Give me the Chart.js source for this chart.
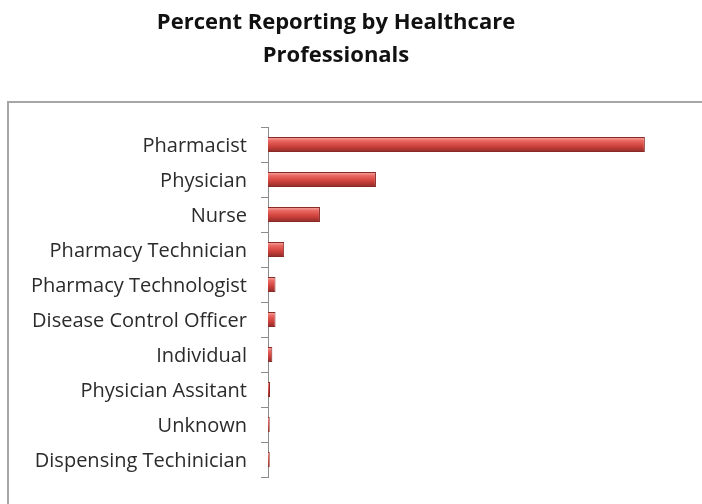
<!DOCTYPE html>
<html>
<head>
<meta charset="utf-8">
<script src="https://cdn.jsdelivr.net/npm/chart.js@4.4.1/dist/chart.umd.min.js"></script>
<style>
  html, body { margin: 0; padding: 0; background: #fff; }
  #wrap { width: 702px; height: 504px; }
</style>
</head>
<body>
<div id="wrap"><canvas id="chartCanvas"></canvas></div>
<script>
const categories = [
    'Pharmacist', 'Physician', 'Nurse', 'Pharmacy Technician', 'Pharmacy Technologist',
    'Disease Control Officer', 'Individual', 'Physician Assitant', 'Unknown', 'Dispensing Techinician'
];
const percentValues = [65.3, 18.7, 9.0, 2.8, 1.3, 1.3, 0.75, 0.35, 0.3, 0.3];
const titleLines = ['Percent Reporting by Healthcare', 'Professionals'];

// frame round the plot, like the office chart border
const framePlugin = {
    id: 'frame',
    beforeDraw(chart) {
        const c = chart.ctx;
        c.save();
        c.strokeStyle = '#a6a6a6';
        c.lineWidth = 2;
        c.beginPath();
        c.moveTo(8, 504);
        c.lineTo(8, 102);
        c.lineTo(702, 102);
        c.stroke();
        c.restore();
    }
};

const barFill = (ctx) => {
    const chart = ctx.chart;
    const y = chart.scales.y;
    if (!y || ctx.dataIndex === undefined) return '#d9534f';
    const mid = y.getPixelForValue(ctx.dataIndex);
    if (!isFinite(mid)) return '#d9534f';
    const g = chart.ctx.createLinearGradient(0, mid - 7.5, 0, mid + 7.5);
    g.addColorStop(0, '#f5b0aa');
    g.addColorStop(0.25, '#ea6761');
    g.addColorStop(0.6, '#d0423c');
    g.addColorStop(1, '#8e2b28');
    return g;
};

const canvas = document.getElementById('chartCanvas');
const chart = new Chart(canvas.getContext('2d'), {
    type: 'bar',
    data: {
        labels: categories,
        datasets: [{
            data: percentValues,
            backgroundColor: barFill,
            borderColor: '#8a2a27',
            borderWidth: 1,
            barPercentage: 0.43,
            categoryPercentage: 1.0
        }]
    },
    options: {
        indexAxis: 'y',
        responsive: true,
        maintainAspectRatio: false,
        animation: false,
        layout: { padding: { top: 6, left: 0, right: 30, bottom: 27 } },
        scales: {
            x: { display: false, min: 0, max: 70 },
            y: {
                afterFit: (scale) => { scale.width = 268; },
                border: { color: '#8c8c8c', width: 1 },
                grid: { drawOnChartArea: false, tickLength: 7, color: '#8c8c8c', offset: true },
                ticks: {
                    padding: 14,
                    labelOffset: 2,
                    color: '#2b2b2b',
                    font: { family: 'Open Sans', size: 20 }
                }
            }
        },
        plugins: {
            legend: { display: false },
            tooltip: { enabled: false },
            title: {
                display: true,
                text: titleLines,
                color: '#111',
                font: { family: 'Open Sans', size: 22, weight: 'bold', lineHeight: 1.5 },
                padding: { top: 0, bottom: 55 }
            }
        }
    },
    plugins: [framePlugin]
});
</script>
</body>
</html>
